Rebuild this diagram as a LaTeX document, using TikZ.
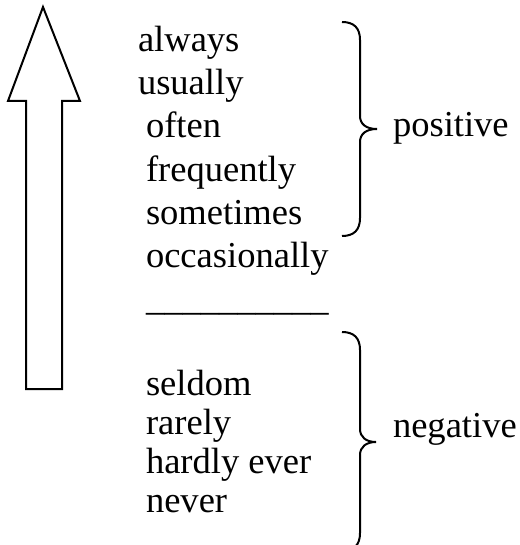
\documentclass[tikz,border=0pt]{standalone}
\usepackage{fontspec}
\setmainfont{Liberation Serif}
\usepackage{tikz}

\begin{document}
\begin{tikzpicture}[x=0.75pt,y=-0.75pt,line width=1.5pt,
		word/.style={anchor=base west,inner sep=0pt,font=\fontsize{27.4}{32}\selectfont}]
			\useasboundingbox (0,0) rectangle (520,545);
			% hollow arrow
			\draw[line join=miter] (26,389) -- (26,101) -- (8,101) -- (43,7) -- (80,101) -- (62,101) -- (62,389) -- cycle;
			% frequency words
			\node[word] (always) at (137,52) {always};
			\node[word] (usually) at (137,95) {usually};
			\node[word] (often) at (145,138) {often};
			\node[word] (frequently) at (145,181) {frequently};
			\node[word] (sometimes) at (145,224) {sometimes};
			\node[word] (occasionally) at (145,267) {occasionally};
			\node[word] (rule) at (145,310) {\_\_\_\_\_\_\_\_\_\_};
			\node[word] (seldom) at (145,395) {seldom};
			\node[word] (rarely) at (145,434) {rarely};
			\node[word] (hardly) at (145,473) {hardly ever};
			\node[word] (never) at (145,512) {never};
			% braces
			\draw (342,22) .. controls (354,22) and (360,28) .. (360,40) -- (360,116)
				.. controls (360,124) and (366,129) .. (377,129)
				.. controls (366,129) and (360,134) .. (360,142) -- (360,218)
				.. controls (360,230) and (354,236) .. (342,236);
			\draw (342,332) .. controls (354,332) and (360,338) .. (360,350) -- (360,429)
				.. controls (360,437) and (366,442) .. (376,442)
				.. controls (366,442) and (360,447) .. (360,455) -- (360,533)
				.. controls (360,545) and (354,551) .. (342,551);
			\node[word] (pos) at (392,137) {positive};
			\node[word] (neg) at (392,437) {negative};
		\end{tikzpicture}
\end{document}
